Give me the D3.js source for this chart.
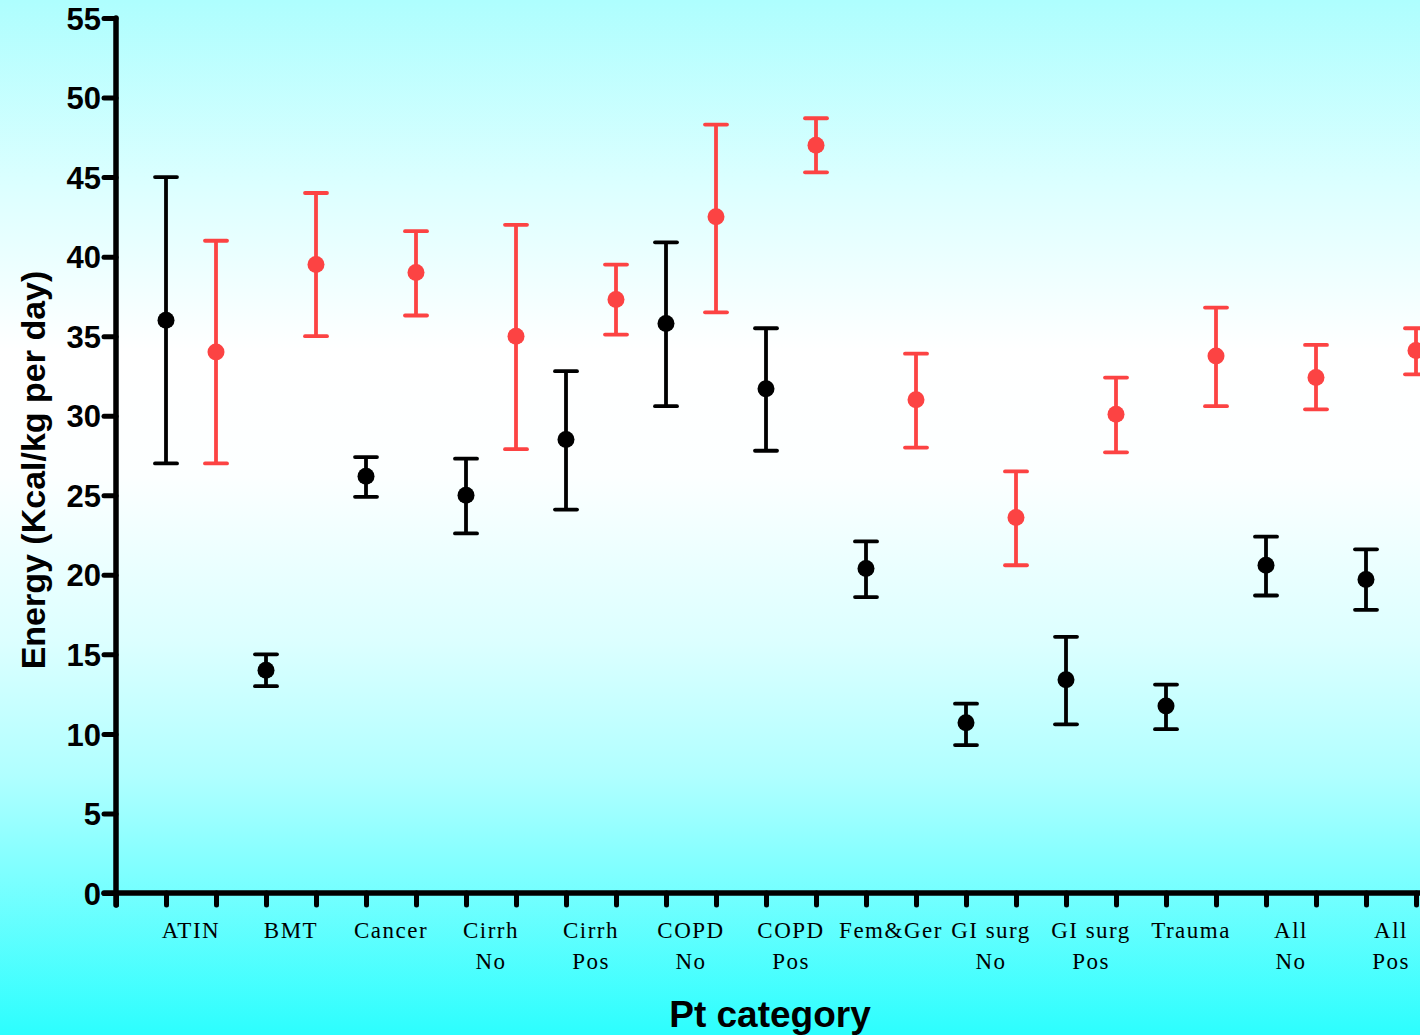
<!DOCTYPE html>
<html>
<head>
<meta charset="utf-8">
<script src="https://cdn.jsdelivr.net/npm/d3@7"></script>
<style>
  html, body { margin: 0; padding: 0; overflow: hidden; }
  svg { display: block; }
</style>
</head>
<body>
<svg id="chart" width="1420" height="1035"></svg>
<script>
// Patient categories (each line of a label is a separate entry)
const categories = [
  ["ATIN"], ["BMT"], ["Cancer"], ["Cirrh", "No"], ["Cirrh", "Pos"],
  ["COPD", "No"], ["COPD", "Pos"], ["Fem&Ger"], ["GI surg", "No"],
  ["GI surg", "Pos"], ["Trauma"], ["All", "No"], ["All", "Pos"]
];

// Black series: mean and error bar limits (Kcal/kg per day)
const blackMean = [36.0, 14.0, 26.2, 25.0, 28.5, 35.8, 31.7, 20.4, 10.7, 13.4, 11.75, 20.6, 19.7];
const blackHigh = [45.0, 15.0, 27.4, 27.3, 32.8, 40.9, 35.5, 22.1, 11.9, 16.1, 13.1, 22.4, 21.6];
const blackLow  = [27.0, 13.0, 24.9, 22.6, 24.1, 30.6, 27.8, 18.6, 9.3, 10.6, 10.3, 18.7, 17.8];

// Red series: mean and error bar limits (Kcal/kg per day)
const redMean = [34.0, 39.5, 39.0, 35.0, 37.3, 42.5, 47.0, 31.0, 23.6, 30.1, 33.75, 32.4, 34.1];
const redHigh = [41.0, 44.0, 41.6, 42.0, 39.5, 48.3, 48.7, 33.9, 26.5, 32.4, 36.8, 34.45, 35.5];
const redLow  = [27.0, 35.0, 36.3, 27.9, 35.1, 36.5, 45.3, 28.0, 20.6, 27.7, 30.6, 30.4, 32.6];

// Y axis tick values
const yTicks = [0, 5, 10, 15, 20, 25, 30, 35, 40, 45, 50, 55];

const svg = d3.select("#chart");
const W = 1420, H = 1035;

// Background gradient
const defs = svg.append("defs");
const grad = defs.append("linearGradient")
  .attr("id", "bg").attr("x1", 0).attr("y1", 0).attr("x2", 0).attr("y2", 1);
[[0, "#aefefe"], [0.18, "#dcffff"], [0.34, "#ffffff"], [0.46, "#fcffff"],
 [0.62, "#dcffff"], [0.75, "#b0ffff"], [0.84, "#80ffff"], [1, "#2cfefe"]]
  .forEach(([o, c]) => grad.append("stop").attr("offset", o).attr("stop-color", c));
svg.append("rect").attr("width", W).attr("height", H).attr("fill", "url(#bg)");

// Scales
const x = d3.scaleLinear().domain([0, 2 * categories.length]).range([116, 1416]);
const y = d3.scaleLinear().domain([0, 55]).range([893, 18]);

const RED = "#fc4343";

// Y axis
const yAxis = svg.append("g").attr("transform", `translate(${x(0)},0)`)
  .call(d3.axisLeft(y).tickValues(yTicks).tickSize(12).tickPadding(3));
yAxis.select(".domain").remove();
yAxis.selectAll(".tick line").attr("stroke", "#000").attr("stroke-width", 5).attr("stroke-linecap", "round");
yAxis.selectAll(".tick text")
  .attr("fill", "#000")
  .style("font-family", "'Liberation Sans', Arial, sans-serif")
  .style("font-weight", "bold")
  .style("font-size", "31px")
  .attr("dy", "0.36em");
svg.append("line")
  .attr("x1", x(0)).attr("x2", x(0)).attr("y1", y(55)).attr("y2", y(0) + 12)
  .attr("stroke", "#000").attr("stroke-width", 5.5).attr("stroke-linecap", "round");

// X axis
const xAxis = svg.append("g").attr("transform", `translate(0,${y(0)})`)
  .call(d3.axisBottom(x).ticks(2 * categories.length).tickFormat("").tickSize(12));
xAxis.select(".domain").remove();
xAxis.selectAll(".tick line").attr("stroke", "#000").attr("stroke-width", 5).attr("stroke-linecap", "round");
svg.append("line")
  .attr("x1", x(0) - 12).attr("x2", W + 5).attr("y1", y(0)).attr("y2", y(0))
  .attr("stroke", "#000").attr("stroke-width", 5.5).attr("stroke-linecap", "round");

// Category labels, centred between each pair of points
const labels = svg.append("g")
  .style("font-family", "'Liberation Serif', 'Times New Roman', serif")
  .style("font-size", "23px")
  .style("letter-spacing", "1.5px")
  .attr("fill", "#000");
categories.forEach((lines, i) => {
  const t = labels.append("text")
    .attr("x", x(2 * i + 1.5)).attr("y", 938)
    .attr("text-anchor", "middle");
  lines.forEach((ln, j) => {
    t.append("tspan").attr("x", x(2 * i + 1.5)).attr("y", 938 + j * 31).text(ln);
  });
});

// Error bars with points
function drawSeries(mean, low, high, offset, color, width) {
  const g = svg.append("g");
  const data = mean.map((m, i) => ({ m, lo: low[i], hi: high[i], pos: 2 * i + offset }));
  const cap = 11;
  const items = g.selectAll("g").data(data).join("g");
  items.append("line")
    .attr("x1", d => x(d.pos)).attr("x2", d => x(d.pos))
    .attr("y1", d => y(d.lo)).attr("y2", d => y(d.hi))
    .attr("stroke", color).attr("stroke-width", width);
  ["lo", "hi"].forEach(k => {
    items.append("line")
      .attr("x1", d => x(d.pos) - cap).attr("x2", d => x(d.pos) + cap)
      .attr("y1", d => y(d[k])).attr("y2", d => y(d[k]))
      .attr("stroke", color).attr("stroke-width", width).attr("stroke-linecap", "round");
  });
  items.append("circle")
    .attr("cx", d => x(d.pos)).attr("cy", d => y(d.m))
    .attr("r", 8.5).attr("fill", color);
}
drawSeries(blackMean, blackLow, blackHigh, 1, "#000", 3.8);
drawSeries(redMean, redLow, redHigh, 2, RED, 3.8);

// Axis titles
svg.append("text")
  .attr("transform", `translate(45,470) rotate(-90)`)
  .attr("text-anchor", "middle")
  .style("font-family", "'Liberation Sans', Arial, sans-serif")
  .style("font-weight", "bold")
  .style("font-size", "34px")
  .attr("fill", "#000")
  .text("Energy (Kcal/kg per day)");

svg.append("text")
  .attr("x", 770).attr("y", 1027)
  .attr("text-anchor", "middle")
  .style("font-family", "'Liberation Sans', Arial, sans-serif")
  .style("font-weight", "bold")
  .style("font-size", "37px")
  .attr("fill", "#000")
  .text("Pt category");
</script>
</body>
</html>
